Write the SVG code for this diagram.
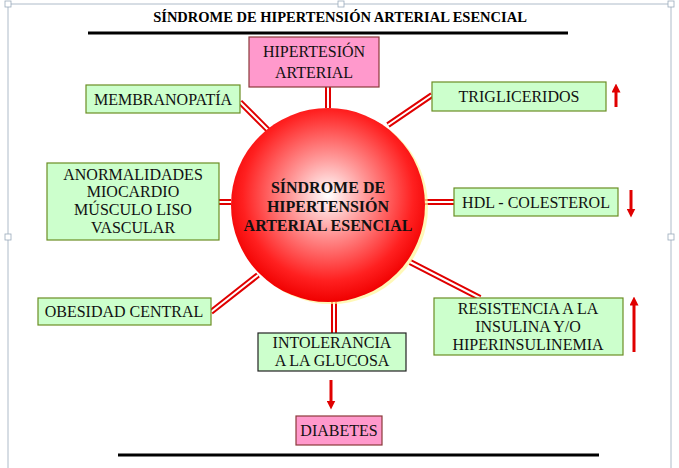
<svg xmlns="http://www.w3.org/2000/svg" width="679" height="468" viewBox="0 0 679 468">
<defs>
<radialGradient id="g" cx="0.5" cy="0.45" r="0.55"><stop offset="0" stop-color="#ffffff"/><stop offset="0.35" stop-color="#ff9a9a"/><stop offset="0.8" stop-color="#ff2020"/><stop offset="1" stop-color="#f00000"/></radialGradient>
<marker id="ah" viewBox="0 0 10 10" refX="5" refY="5" markerWidth="3" markerHeight="3" orient="auto"><path d="M0,0L10,5L0,10z" fill="#e00000"/></marker>
<style>
.t{font-family:"Liberation Serif",serif;font-size:16px;fill:#111;text-anchor:middle}
.gb{fill:#ccffcc;stroke:#6b8e23;stroke-width:1.2}
.pb{fill:#ff99cc;stroke:#8b3a3a;stroke-width:1.2}
.c{stroke:#e00000;stroke-width:6;fill:none}
.ci{stroke:#fff;stroke-width:2;fill:none}
.ar{stroke:#e00000;stroke-width:3;marker-end:url(#ah)}
</style>
</defs>
<rect width="679" height="468" fill="#fff"/>
<g stroke="#9ab" stroke-width="0.8" fill="#fff">
<line x1="8" y1="4" x2="671" y2="4"/><line x1="8" y1="4" x2="8" y2="468"/><line x1="671" y1="4" x2="671" y2="468"/>
<rect x="5" y="1" width="6" height="6"/><rect x="338" y="1" width="6" height="6"/><rect x="668" y="1" width="6" height="6"/><rect x="5" y="234" width="6" height="6"/><rect x="668" y="234" width="6" height="6"/>
</g>
<text x="340" y="22" style="font-family:'Liberation Serif',serif;font-size:14.5px;font-weight:bold;text-anchor:middle">SÍNDROME DE HIPERTENSIÓN ARTERIAL ESENCIAL</text>
<line x1="88" y1="33" x2="568" y2="33" stroke="#000" stroke-width="3"/>
<line x1="118" y1="455" x2="599" y2="455" stroke="#000" stroke-width="3"/>
<g id="connectors">
<path class="c" d="M328 108V87M268 130L240 102M388 125L432 95M231 202H219M425 202H454M258 275L211 312M410 262L480 298M334 302V333"/>
<path class="ci" d="M328 108V87M268 130L240 102M388 125L432 95M231 202H219M425 202H454M258 275L211 312M410 262L480 298M334 302V333"/>
<line class="ar" x1="616" y1="107" x2="616" y2="88"/>
<line class="ar" x1="631" y1="190" x2="631" y2="213"/>
<line class="ar" x1="634" y1="352" x2="634" y2="301"/>
<line class="ar" x1="331" y1="380" x2="331" y2="405"/>
</g>
<g id="center">
<circle cx="331" cy="207" r="97" fill="#fff59a" opacity="0.7"/>
<circle cx="328" cy="205" r="97" fill="url(#g)"/>
<text class="t" x="328" y="193" font-weight="bold">SÍNDROME DE</text>
<text class="t" x="328" y="212" font-weight="bold">HIPERTENSIÓN</text>
<text class="t" x="328" y="231" font-weight="bold">ARTERIAL ESENCIAL</text>
</g>
<g id="hta"><rect class="pb" x="249" y="37" width="130" height="50"/><text class="t" x="314" y="57">HIPERTESIÓN</text><text class="t" x="314" y="78">ARTERIAL</text></g>
<g id="memb"><rect class="gb" x="86" y="85" width="154" height="28"/><text class="t" x="163" y="105">MEMBRANOPATÍA</text></g>
<g id="trig"><rect class="gb" x="432" y="82" width="174" height="29"/><text class="t" x="519" y="102">TRIGLICERIDOS</text></g>
<g id="anor"><rect class="gb" x="47" y="163" width="172" height="77"/><text class="t" x="133" y="180">ANORMALIDADES</text><text class="t" x="133" y="197">MIOCARDIO</text><text class="t" x="133" y="215">MÚSCULO LISO</text><text class="t" x="133" y="233">VASCULAR</text></g>
<g id="hdl"><rect class="gb" x="454" y="188" width="164" height="28"/><text class="t" x="536" y="208">HDL - COLESTEROL</text></g>
<g id="obes"><rect class="gb" x="38" y="298" width="173" height="27"/><text class="t" x="124" y="317">OBESIDAD CENTRAL</text></g>
<g id="intol"><rect x="258" y="333" width="148" height="38" fill="#ccffcc" stroke="#222" stroke-width="1.2"/><text class="t" x="332" y="348">INTOLERANCIA</text><text class="t" x="332" y="366">A LA GLUCOSA</text></g>
<g id="resis"><rect class="gb" x="434" y="298" width="189" height="57"/><text class="t" x="528" y="314">RESISTENCIA A LA</text><text class="t" x="528" y="332">INSULINA Y/O</text><text class="t" x="528" y="350">HIPERINSULINEMIA</text></g>
<g id="diab"><rect class="pb" x="296" y="416" width="86" height="29"/><text class="t" x="339" y="436">DIABETES</text></g>
</svg>
